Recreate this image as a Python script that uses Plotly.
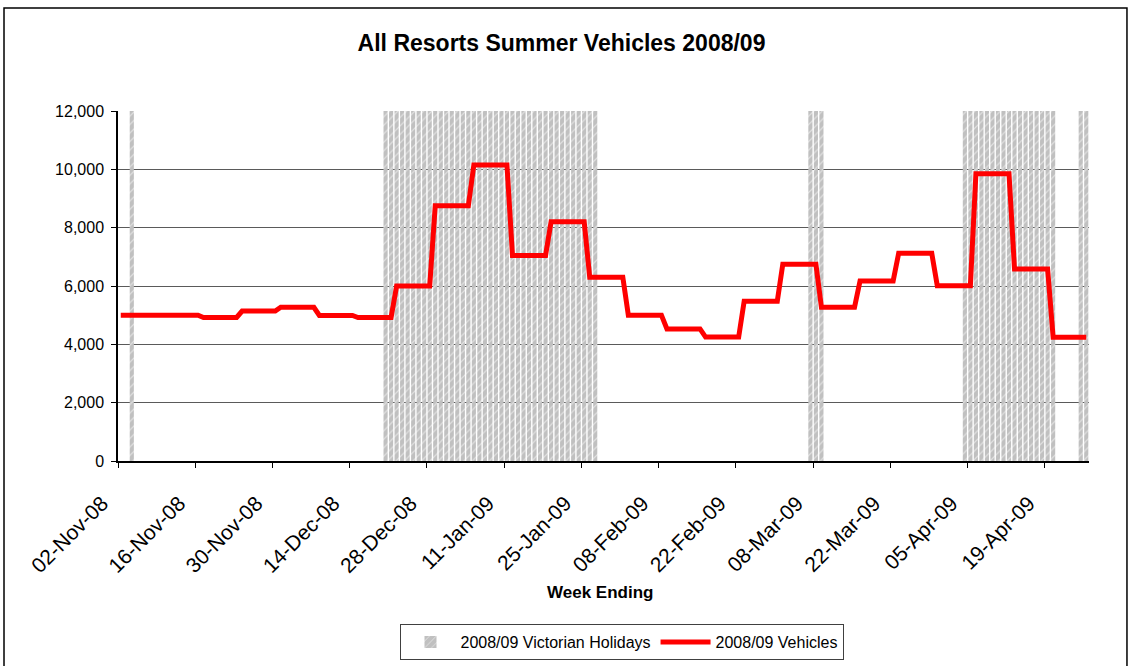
import pandas as pd
import plotly.graph_objects as go

# weekly vehicle counts, keyed by week ending (Sunday)
week_ending = ["2008-11-02", "2008-11-09", "2008-11-16", "2008-11-23", "2008-11-30",
               "2008-12-07", "2008-12-14", "2008-12-21", "2008-12-28", "2009-01-04",
               "2009-01-11", "2009-01-18", "2009-01-25", "2009-02-01", "2009-02-08",
               "2009-02-15", "2009-02-22", "2009-03-01", "2009-03-08", "2009-03-15",
               "2009-03-22", "2009-03-29", "2009-04-05", "2009-04-12", "2009-04-19",
               "2009-04-26"]
vehicles = [5000, 5000, 5000, 4920, 5140, 5270, 4990, 4920, 6000, 8750,
            10150, 7050, 8200, 6300, 5000, 4530, 4250, 5480, 6750, 5270,
            6170, 7120, 6010, 9850, 6580, 4240]

# Victorian holiday periods (inclusive)
holiday_periods = [("2008-11-04", "2008-11-04"), ("2008-12-20", "2009-01-27"),
                   ("2009-03-07", "2009-03-09"), ("2009-04-04", "2009-04-20"),
                   ("2009-04-25", "2009-04-26")]
holiday_level = 12000

days = pd.date_range("2008-11-02", "2009-04-26", freq="D")
weekly = dict(zip(pd.to_datetime(week_ending), vehicles))
daily_vehicles = [weekly[d + pd.Timedelta(days=6 - d.weekday())] for d in days]

hol_days = []
for start, end in holiday_periods:
    hol_days += list(pd.date_range(start, end, freq="D"))

DAY = 86400000
font = "Liberation Sans, Arial, sans-serif"

fig = go.Figure()
fig.add_trace(go.Bar(
    x=hol_days, y=[holiday_level] * len(hol_days),
    name="2008/09 Victorian Holidays",
    xperiod=DAY, xperiodalignment="middle",
    marker=dict(color="#c0c0c0", line=dict(width=0),
                pattern=dict(shape="/", fgcolor="white", size=6, solidity=0.2)),
))
fig.add_trace(go.Scatter(
    x=days, y=daily_vehicles, mode="lines",
    name="2008/09 Vehicles",
    xperiod=DAY, xperiodalignment="middle",
    line=dict(color="#ff0000", width=5),
))

fig.update_layout(
    width=1131, height=666, autosize=False,
    margin=dict(l=118, r=42, t=111, b=205),
    paper_bgcolor="white", plot_bgcolor="white",
    font=dict(family=font, color="black"),
    bargap=0.25,
    title=dict(text="<b>All Resorts Summer Vehicles 2008/09</b>", font=dict(size=23),
               x=0.4965, xref="container", xanchor="center",
               y=1 - 43 / 666, yref="container", yanchor="middle"),
    xaxis=dict(type="date", range=["2008-11-02", "2009-04-27"], automargin=False,
               tick0="2008-11-02", dtick=14 * DAY, tickformat="%d-%b-%y",
               tickangle=-45, tickfont=dict(size=21),
               ticklabelstandoff=15, ticklabelshift=-16,
               ticks="outside", ticklen=5, tickcolor="black",
               showline=True, linecolor="black", linewidth=1.5, showgrid=False),
    yaxis=dict(range=[0, 12000], dtick=2000, tickformat=",", automargin=False,
               tickfont=dict(size=16), ticks="outside", ticklen=5, tickcolor="black",
               ticklabelstandoff=4,
               showline=True, linecolor="black", linewidth=1.5,
               showgrid=True, gridcolor="#5a5a5a", gridwidth=1, zeroline=False),
    legend=dict(orientation="h", xref="container", yref="container",
                x=621.5 / 1131, xanchor="center", y=1 - 624 / 666, yanchor="top",
                bordercolor="#404040", borderwidth=1, bgcolor="white",
                font=dict(size=16), traceorder="normal", itemwidth=50),
    annotations=[dict(text="<b>Week Ending</b>", x=0.496, y=-0.377,
                      xref="paper", yref="paper", showarrow=False,
                      font=dict(size=17), xanchor="center", yanchor="middle")],
    shapes=[dict(type="rect", xref="paper", yref="paper",
                 x0=-0.1174, x1=1.0391, y0=-0.65, y1=1.294,
                 line=dict(color="black", width=1.5), layer="below")],
)

fig.write_html("out.html", config={"displayModeBar": False},
               post_script="document.body.style.margin='0';")
